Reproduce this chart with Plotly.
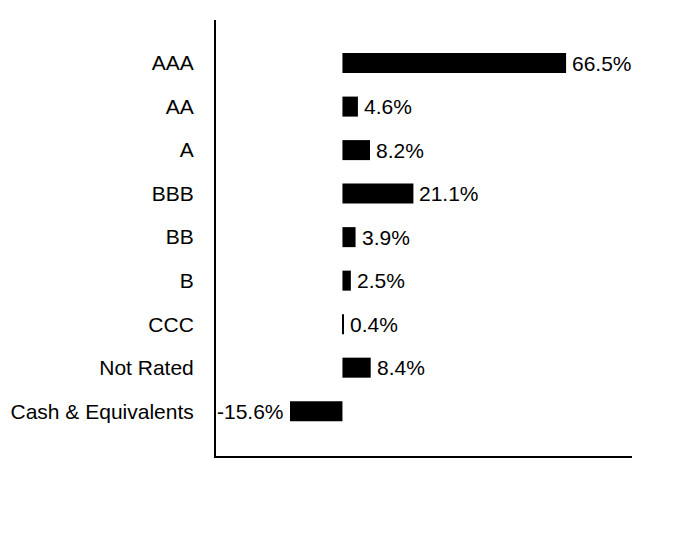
import plotly.graph_objects as go

categories = ["AAA", "AA", "A", "BBB", "BB", "B", "CCC", "Not Rated", "Cash & Equivalents"]
values = [66.5, 4.6, 8.2, 21.1, 3.9, 2.5, 0.4, 8.4, -15.6]
labels = [f"{v:.1f}%" for v in values]

FONT = "Liberation Sans, Arial"

fig = go.Figure(go.Bar(
    x=values, y=categories, orientation="h",
    marker=dict(color="#000000", line=dict(width=0)),
    width=0.46,
))

for v, c, t in zip(values, categories, labels):
    fig.add_annotation(
        x=v, y=c, text=t, showarrow=False,
        xanchor="left" if v >= 0 else "right",
        xshift=4 if v >= 0 else -4,
        font=dict(family=FONT, size=21, color="#000000"),
    )

fig.update_layout(
    width=684, height=540,
    margin=dict(l=208, r=60, t=12, b=92, autoexpand=False),
    paper_bgcolor="white", plot_bgcolor="white",
    font=dict(family=FONT, size=21, color="#000000"),
    showlegend=False,
    xaxis=dict(range=[-37.6, 86.1], showticklabels=False, showgrid=False, zeroline=False,
               showline=True, linecolor="#000000", linewidth=2, ticks="", automargin=False),
    yaxis=dict(range=[9.03, -0.99], showgrid=False, zeroline=False, automargin=False,
               showline=True, linecolor="#000000", linewidth=2, ticks="",
               ticklabelstandoff=16, tickfont=dict(family=FONT, size=21)),
)

fig.write_html("out.html")
